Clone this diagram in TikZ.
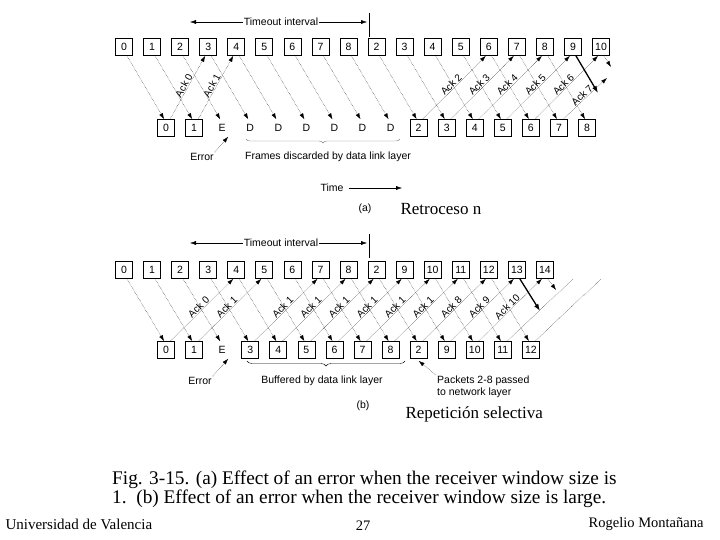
\documentclass[tikz,border=0pt]{standalone}
\usepackage{fontspec}
\setmainfont{Liberation Serif}
\setsansfont{Liberation Sans}
\usetikzlibrary{arrows.meta,decorations.pathreplacing}

\begin{document}
\begin{tikzpicture}[x=1pt,y=1pt,
  fr/.style={draw,line width=.7pt,minimum size=17pt,inner sep=0pt,font=\sffamily\fontsize{10.5}{12}\selectfont},
  nf/.style={minimum size=17pt,inner sep=0pt,font=\sffamily\fontsize{10.5}{12}\selectfont},
  t/.style={font=\sffamily\fontsize{10.5}{12}\selectfont,inner sep=1pt},
  dl/.style={densely dotted,-{Latex[length=6pt,width=4pt]}},
  al/.style={font=\sffamily\fontsize{10}{11}\selectfont,sloped,above,inner sep=.5pt},
  bd/.style={line width=1.3pt,-{Latex[length=7pt,width=5pt]}},
  ar/.style={-{Latex[length=6pt,width=4pt]}}]
\useasboundingbox (0,0) rectangle (720,-540);

% (a) go back n
\foreach \v [count=\i from 0] in {0,1,2,3,4,5,6,7,8,2,3,4,5,6,7,8,9,10}
  \node[fr] (sa\i) at ({124+28.06*\i},-47) {\v};
\foreach \v/\s [count=\j from 0] in {0/fr,1/fr,E/nf,D/nf,D/nf,D/nf,D/nf,D/nf,D/nf,2/fr,3/fr,4/fr,5/fr,6/fr,7/fr,8/fr}
  \node[\s] (ra\j) at ({166.1+28.06*\j},-128) {\v};

\foreach \i in {0,...,15}
  \draw[dl] ([xshift=3pt]sa\i.south) -- ([xshift=-2pt]ra\i.north);
\coordinate (fa16) at (598,-93);
\coordinate (fa17) at (611,-67);
\draw[bd] ([xshift=3pt]sa16.south) -- (fa16);
\draw[dl] ([xshift=3pt]sa17.south) -- (fa17);

\foreach \j/\k/\t in {0/3/0,1/4/1,9/13/2,10/14/3,11/15/4,12/16/5,13/17/6}
  \draw[dl] ([xshift=4pt]ra\j.north) -- node[al] {Ack \t} ([xshift=-3pt]sa\k.south);
\coordinate (ea) at (607,-78);
\draw[dl] ([xshift=4pt]ra14.north) -- node[al] {Ack 7} (ea);

\node[t] (toa) at (281,-22) {Timeout interval};
\coordinate (tla) at (190,-22);
\coordinate (tra) at (367,-22);
\draw[ar] (toa.west) -- (tla);
\draw[ar] (toa.east) -- (tra);
\draw (369,-13) -- (369,-37);

\draw[gray,decorate,decoration={brace,mirror,amplitude=4pt}] (246,-139) -- (400,-139);
\node[t] (fda) at (328,-157) {Frames discarded by data link layer};
\node[t] (era) at (202,-157) {Error};
\draw[dl] (era.north east) -- ([xshift=6pt]ra2.south);

\node[t] (tm) at (332,-188) {Time};
\coordinate (tme) at (402,-188);
\draw[ar] ([xshift=4pt]tm.east) -- (tme);

\node[t] (la) at (365,-209) {(a)};
\node[font=\fontsize{17}{17}\selectfont,anchor=west] (rn) at (397,-209) {Retroceso n};

% (b) selective repeat
\foreach \v [count=\i from 0] in {0,1,2,3,4,5,6,7,8,2,9,10,11,12,13,14}
  \node[fr] (sb\i) at ({124+28.06*\i},-270) {\v};
\foreach \v/\s [count=\j from 0] in {0/fr,1/fr,E/nf,3/fr,4/fr,5/fr,6/fr,7/fr,8/fr,2/fr,9/fr,10/fr,11/fr,12/fr}
  \node[\s] (rb\j) at ({166.1+28.06*\j},-350) {\v};

\foreach \i in {0,...,13}
  \draw[dl] ([xshift=3pt]sb\i.south) -- ([xshift=-2pt]rb\i.north);
\coordinate (fb14) at (540,-311);
\coordinate (fb15) at (556,-290);
\draw[bd] ([xshift=3pt]sb14.south) -- (fb14);
\draw[dl] ([xshift=3pt]sb15.south) -- (fb15);

\foreach \j/\k/\t in {0/4/0,1/5/1,3/7/1,4/8/1,5/9/1,6/10/1,7/11/1,8/12/1,9/13/8,10/14/9,11/15/10}
  \draw[dl] ([xshift=4pt]rb\j.north) -- node[al] {Ack \t} ([xshift=-3pt]sb\k.south);
\coordinate (eb1) at (573,-279);
\coordinate (eb2) at (601,-279);
\draw[densely dotted] ([xshift=4pt]rb12.north) -- (eb1);
\draw[densely dotted] ([xshift=4pt]rb13.north) -- (eb2);

\node[t] (tob) at (281,-243) {Timeout interval};
\coordinate (tlb) at (190,-243);
\coordinate (trb) at (367,-243);
\draw[ar] (tob.west) -- (tlb);
\draw[ar] (tob.east) -- (trb);
\draw (369,-234) -- (369,-258);

\draw[decorate,decoration={brace,mirror,amplitude=5pt}] (247,-361) -- (405,-361);
\node[t] (bfb) at (322,-381) {Buffered by data link layer};
\node[t] (erb) at (200,-381) {Error};
\draw[dl] (erb.north east) -- ([xshift=6pt]rb2.south);
\node[t,align=left,anchor=north west] (pkb) at (436,-375) {Packets 2-8 passed\\to network layer};
\draw[dl] (pkb.north west) -- ([yshift=-2pt]rb9.south);

\node[t] (lb) at (363,-406) {(b)};
\node[font=\fontsize{17}{17}\selectfont,anchor=west] (rs) at (402,-414) {Repetición selectiva};

% caption and footer
\node[anchor=north west,align=left,inner sep=0pt,font=\fontsize{19.3}{17}\selectfont] (cap) at (112,-471)
  {Fig. 3-15. (a) Effect of an error when the receiver window size is\\1.\ \ (b) Effect of an error when the receiver window size is large.};
\node[anchor=west,font=\fontsize{15}{15}\selectfont] (uv) at (2,-524) {Universidad de Valencia};
\node[font=\fontsize{14.5}{14.5}\selectfont] (pg) at (363,-526) {27};
\node[anchor=east,font=\fontsize{14.5}{14.5}\selectfont] (rm) at (707,-524) {Rogelio Montañana};
\end{tikzpicture}
\end{document}
